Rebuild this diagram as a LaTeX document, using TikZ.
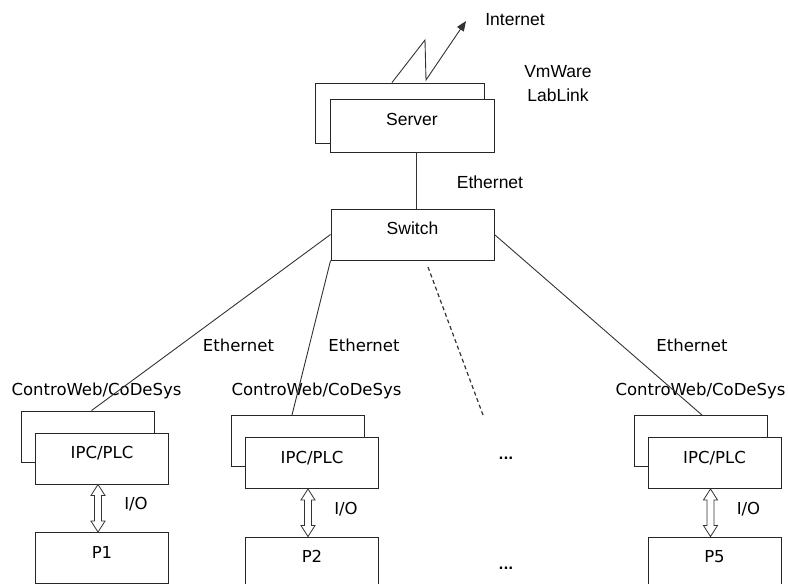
\documentclass[tikz,border=0pt]{standalone}
\usepackage{fontspec}
\setmainfont{Liberation Sans}
\newfontfamily\plcfont{DejaVu Sans}
\usetikzlibrary{arrows.meta,positioning,calc}

\begin{document}
\begin{tikzpicture}[
  x=1pt, y=-1pt,
  font=\fontsize{17.5}{21}\selectfont, text=black,
  box/.style={draw=black!85, fill=white, line width=0.9pt, inner sep=0pt,
    minimum width=164pt, minimum height=52pt, text height=12pt, text depth=12pt},
  plcbox/.style={box, minimum width=133pt, minimum height=51pt,
    font=\plcfont\fontsize{16.5}{20}\selectfont},
  lbl/.style={inner sep=0pt},
  plclbl/.style={lbl, font=\plcfont\fontsize{16.5}{20}\selectfont},
  net/.style={draw=black!80, line width=0.9pt},
  io/.style={draw=black!80, line width=0.8pt, fill=white}
]
\useasboundingbox (0,0) rectangle (788,584);

% server, switch
\node[box, minimum width=169pt, minimum height=60pt] (srvbk) at (399.5,113) {};
\node[box, minimum height=53pt] (srv) at (412,125.5) {Server};
\node[box, minimum width=163pt, minimum height=51pt] (sw) at (412.5,234.5) {Switch};
\draw[net] ([xshift=4pt]srv.south) -- ([xshift=3.5pt]sw.north);
\node[lbl] (eth0) at (490,182) {Ethernet};
\node[lbl] (vm1) at (558,72) {VmWare};
\node[lbl, below=10.5pt of vm1] (vm2) {LabLink};

% internet link
\node[lbl] (inettxt) at (515,20) {Internet};
\coordinate (zz1) at (425,40);
\coordinate (zz2) at (426,80);
\coordinate (inet) at (466,21);
\draw[net, -{Triangle[length=10pt,width=8pt]}]
  ([xshift=-7.5pt]srvbk.north) -- (zz1) -- (zz2) -- (inet);

% stations
\foreach \n/\x/\y/\lx in {1/102/458.5/96.5, 2/312/463/316.5, 5/714.5/463/700.5}{
  \node[plcbox] (ipcbk\n) at (\x-14,\y-22) {};
  \node[plcbox] (ipc\n) at (\x,\y) {IPC/PLC};
  \node[plcbox] (p\n) at (\x,\y+99.5) {P\n};
  \node[plclbl, anchor=base] (cw\n) at (\lx,395) {ControWeb/CoDeSys};
  \node[plclbl, anchor=base] (io\n) at (\x+34,\y+51) {I/O};
  \coordinate (iot\n) at ([xshift=-4pt]ipc\n.south);
  \coordinate (iob\n) at (iot\n |- p\n.north);
  \draw[io] (iot\n) -- ++(7,11) -- ++(-3.5,0) -- ($(iob\n)+(3.5,-11)$)
    -- ++(3.5,0) -- (iob\n) -- ++(-7,-11) -- ++(3.5,0)
    -- ($(iot\n)+(-3.5,11)$) -- ++(-3.5,0) -- cycle;
}

% links to the stations
\draw[net] (sw.west) -- ([xshift=3.5pt]ipcbk1.north);
\draw[net] (sw.south west) -- ([xshift=-6pt]ipcbk2.north);
\draw[net] (sw.east) -- ([xshift=1.5pt]ipcbk5.north);
\coordinate (dsh1) at (428,267);
\coordinate (dsh2) at (483,415);
\draw[net, line width=1.2pt, dash pattern=on 4pt off 3pt] (dsh1) -- (dsh2);
\node[plclbl] (eth1) at (238.5,345) {Ethernet};
\node[plclbl] (eth2) at (364,345) {Ethernet};
\node[plclbl] (eth5) at (692,345) {Ethernet};
\node[lbl, anchor=base, font=\plcfont\bfseries\fontsize{13}{15}\selectfont] (dots1) at (506,459) {...};
\node[lbl, anchor=base, font=\plcfont\bfseries\fontsize{13}{15}\selectfont] (dots2) at (506,569) {...};
\end{tikzpicture}
\end{document}
